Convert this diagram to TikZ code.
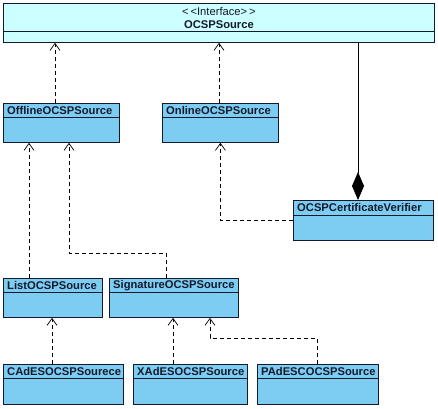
\documentclass[tikz,border=0pt]{standalone}
\usepackage{fontspec}
\setmainfont{Liberation Sans}
\usetikzlibrary{arrows.meta,positioning,calc}

\definecolor{clsblue}{RGB}{125,205,242}
\definecolor{ifcyan}{RGB}{204,255,255}
\definecolor{edge}{RGB}{20,25,45}

\begin{document}
\begin{tikzpicture}[
    x=1pt, y=-1pt,
    cls/.style={draw=edge, line width=0.8pt, fill=clsblue, inner sep=0pt,
                anchor=north west},
    hdr/.style={anchor=west, inner sep=0pt, text=edge,
                font=\bfseries\fontsize{11.2}{13}\selectfont},
    sep/.style={draw=edge, line width=0.8pt},
    real/.style={line width=0.7pt, dash pattern=on 4pt off 3pt,
                 -{Straight Barb[length=7pt,width=10pt]}},
    comp/.style={line width=0.8pt, -{Diamond[length=28pt,width=12pt]}}
]
    \useasboundingbox (0,0) rectangle (438,408);

    % interface
    \node[cls, fill=ifcyan, minimum width=431pt, minimum height=39pt] (top) at (3,3) {};
    \node[font=\fontsize{11.2}{13}\selectfont, inner sep=0pt, text=edge] (stereo)
        at ($(top.north)+(0,8)$) {{<}\,{<}Interface{>}\,{>}};
    \node[font=\bfseries\fontsize{11.2}{13}\selectfont, inner sep=0pt, text=edge] (topname)
        at ($(top.north)+(0,21.5)$) {OCSPSource};
    \draw[sep] ($(top.north west)+(0,28)$) -- ($(top.north east)+(0,28)$);

    % classes
    \node[cls, minimum width=116pt, minimum height=39pt] (off) at (3,103) {};
    \node[cls, minimum width=116pt, minimum height=39pt] (onl) at (162,103) {};
    \node[cls, minimum width=140pt, minimum height=40pt] (ver) at (293,200) {};
    \node[cls, minimum width=99pt,  minimum height=39pt] (lst) at (3,278) {};
    \node[cls, minimum width=129pt, minimum height=39pt] (sig) at (109,278) {};
    \node[cls, minimum width=120pt, minimum height=40pt] (cad) at (3,364) {};
    \node[cls, minimum width=114pt, minimum height=40pt] (xad) at (133,364) {};
    \node[cls, minimum width=121pt, minimum height=40pt] (pad) at (257,364) {};

    \node[hdr] (offH) at ($(off.north west)+(4,7.5)$) {OfflineOCSPSource};
    \node[hdr] (onlH) at ($(onl.north west)+(4,7.5)$) {OnlineOCSPSource};
    \node[hdr] (verH) at ($(ver.north west)+(4,7.5)$) {OCSPCertificateVerifier};
    \node[hdr] (lstH) at ($(lst.north west)+(4,7.5)$) {ListOCSPSource};
    \node[hdr] (sigH) at ($(sig.north west)+(4,7.5)$) {SignatureOCSPSource};
    \node[hdr] (cadH) at ($(cad.north west)+(4,7.5)$) {CAdESOCSPSourece};
    \node[hdr] (xadH) at ($(xad.north west)+(4,7.5)$) {XAdESOCSPSource};
    \node[hdr] (padH) at ($(pad.north west)+(4,7.5)$) {PAdESCOCSPSource};

    \draw[sep] ($(off.north west)+(0,14)$) -- ($(off.north east)+(0,14)$);
    \draw[sep] ($(onl.north west)+(0,14)$) -- ($(onl.north east)+(0,14)$);
    \draw[sep] ($(ver.north west)+(0,15)$) -- ($(ver.north east)+(0,15)$);
    \draw[sep] ($(lst.north west)+(0,14)$) -- ($(lst.north east)+(0,14)$);
    \draw[sep] ($(sig.north west)+(0,14)$) -- ($(sig.north east)+(0,14)$);
    \draw[sep] ($(cad.north west)+(0,14)$) -- ($(cad.north east)+(0,14)$);
    \draw[sep] ($(xad.north west)+(0,14)$) -- ($(xad.north east)+(0,14)$);
    \draw[sep] ($(pad.north west)+(0,14)$) -- ($(pad.north east)+(0,14)$);

    % connector ends
    \coordinate (offT) at ($(off.north west)+(52,0)$);
    \coordinate (onlT) at ($(onl.north west)+(57,0)$);
    \coordinate (verT) at ($(ver.north west)+(65,0)$);
    \coordinate (offB) at ($(off.south west)+(66,0)$);
    \coordinate (lstT) at ($(lst.north west)+(26,0)$);
    \coordinate (sigT) at ($(sig.north west)+(57,0)$);
    \coordinate (sigB) at ($(sig.south west)+(101,0)$);
    \coordinate (cadT) at ($(cad.north west)+(49,0)$);
    \coordinate (xadT) at ($(xad.north west)+(40,0)$);
    \coordinate (padT) at ($(pad.north west)+(60,0)$);

    \draw[real] (offT) -- (offT |- top.south);
    \draw[real] (onlT) -- (onlT |- top.south);
    \draw[comp] (verT |- top.south) -- (verT);
    \draw[real] (ver.west) -| (onl.south);
    \draw[real] (lstT) -- (lstT |- off.south);
    \draw[real] (sigT) -- ++(0,-25) -| (offB);
    \draw[real] (cadT) -- (cadT |- lst.south);
    \draw[real] (xadT) -- (xadT |- sig.south);
    \draw[real] (padT) -- ++(0,-26) -| (sigB);
\end{tikzpicture}
\end{document}
